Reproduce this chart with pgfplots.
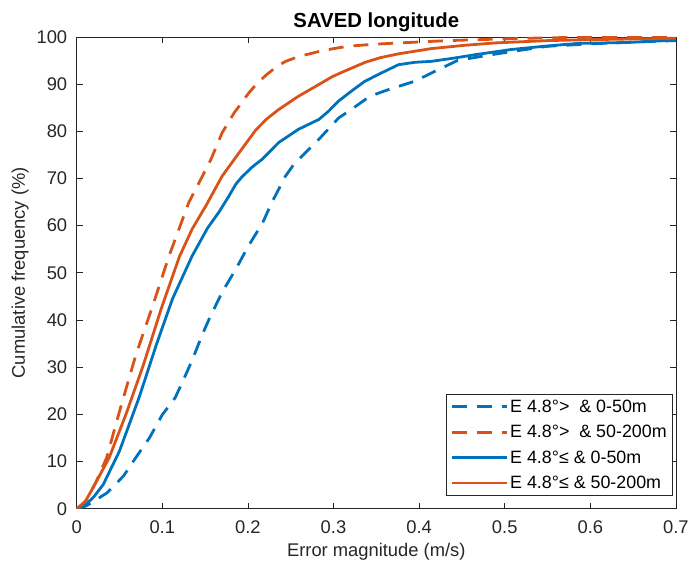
\documentclass[border=0pt]{standalone}
\usepackage{pgfplots}
\pgfplotsset{compat=1.18}
\usepackage{fontspec}
\setmainfont{Liberation Sans}
\definecolor{mblue}{rgb}{0,0.447,0.741}
\definecolor{morange}{rgb}{0.85,0.325,0.098}
\definecolor{axgray}{rgb}{0.15,0.15,0.15}
\begin{document}
\begin{tikzpicture}
\begin{axis}[
  scale only axis,
  width=602bp, height=474bp,
  xmin=0, xmax=0.7, ymin=0, ymax=100,
  xtick={0,0.1,...,0.7},
  ytick={0,10,...,100},
  xticklabels={0,0.1,0.2,0.3,0.4,0.5,0.6,0.7},
  tick align=inside,
  major tick length=6bp,
  axis line style={axgray, line width=0.6bp},
  every tick/.style={axgray, line width=0.6bp},
  tick label style={font=\fontsize{18.5}{20}\selectfont, text=axgray},
  xticklabel style={yshift=-9bp},
  yticklabel style={xshift=-6bp},
  /pgf/number format/assume math mode=true,
  xlabel={Error magnitude (m/s)},
  ylabel={Cumulative frequency (\%)},
  label style={font=\fontsize{18.5}{20}\selectfont, text=axgray},
  xlabel style={yshift=-2bp},
  ylabel style={yshift=1bp},
  title={SAVED longitude},
  title style={font=\bfseries\fontsize{20.5}{22}\selectfont, yshift=-4bp},
  legend style={at={(1,0)}, anchor=south east, xshift=-3bp, yshift=13bp,
    font=\fontsize{18}{20}\selectfont, draw=axgray, line width=0.6bp,
    inner xsep=4bp, inner ysep=3.5bp, row sep=7.5bp},
  legend cell align=left,
  legend image code/.code={\draw[#1] (0bp,0bp) -- (55bp,0bp);},
  every axis plot/.append style={line width=2.8bp, line join=round},
  clip=true,
]
% E 4.8 > & 0-50m
\addplot[mblue, dash pattern=on 15bp off 10bp] coordinates {
(0,0) (0.01,0.5) (0.02,1.5) (0.028,2.5) (0.035,3.3) (0.042,4.5) (0.055,7)
(0.069,10.8) (0.085,15) (0.100,19.9) (0.115,23.5) (0.124,27) (0.135,31.5)
(0.147,37) (0.155,40.3) (0.170,45.9) (0.186,50.8) (0.201,55.8) (0.217,60.5)
(0.228,64.9) (0.244,70.5) (0.253,72.8) (0.263,74.7) (0.283,78.3) (0.306,82.8) (0.320,84.5)
(0.337,86.7) (0.350,87.9) (0.364,88.8) (0.395,90.6) (0.422,93.0) (0.445,95.0) (0.484,96.2)
(0.52,97.2) (0.55,98.0) (0.60,98.5) (0.65,98.9) (0.70,99.2)
};
\addlegendentry{E 4.8°>\ \ \& 0-50m}
% E 4.8 > & 50-200m
\addplot[morange, dash pattern=on 15bp off 10bp] coordinates {
(0,0) (0.003,0.2) (0.012,2) (0.023,5.8) (0.035,10.8) (0.050,20.6) (0.069,32.5)
(0.089,43.1) (0.108,53.6) (0.120,59.5) (0.131,64.9) (0.143,69.1) (0.157,74.1)
(0.170,79.7) (0.184,83.9) (0.201,88.1) (0.211,90.2) (0.222,92.0) (0.233,93.6) (0.244,94.8) (0.259,95.8)
(0.283,96.9) (0.300,97.5) (0.317,98.0) (0.345,98.4) (0.376,98.7) (0.434,99.2) (0.488,99.5) (0.55,99.8)
(0.60,99.9) (0.70,100)
};
\addlegendentry{E 4.8°>\ \ \& 50-200m}
% E 4.8 <= & 0-50m
\addplot[mblue] coordinates {
(0,0) (0.011,0.9) (0.020,2.5) (0.031,5.1) (0.050,12.2) (0.073,23.6) (0.093,34.7)
(0.112,44.5) (0.135,53.6) (0.153,59.5) (0.166,62.8) (0.178,66.3) (0.186,68.8) (0.193,70.3)
(0.205,72.4) (0.217,74.1) (0.236,77.6) (0.259,80.4) (0.283,82.5) (0.294,84.2) (0.306,86.4)
(0.321,88.5) (0.336,90.5) (0.352,92.0) (0.376,94.1) (0.395,94.6) (0.414,94.8) (0.441,95.5) (0.465,96.2)
(0.492,96.9) (0.507,97.3) (0.546,98.0) (0.585,98.6) (0.643,98.8) (0.70,99.3)
};
\addlegendentry{E 4.8°≤ \& 0-50m}
% E 4.8 <= & 50-200m
\addplot[morange] coordinates {
(0,0) (0.010,1.5) (0.019,4.4) (0.038,10.8) (0.058,20.2) (0.078,30.5) (0.099,42.5)
(0.120,53.4) (0.135,59.3) (0.151,64.2) (0.170,70.5) (0.190,75.5) (0.209,80.2)
(0.222,82.6) (0.236,84.6) (0.259,87.4) (0.283,89.9) (0.298,91.5) (0.310,92.5) (0.337,94.6)
(0.355,95.6) (0.376,96.4) (0.414,97.5) (0.453,98.2) (0.488,98.7) (0.55,99.2) (0.60,99.4)
(0.70,99.7)
};
\addlegendentry{E 4.8°≤ \& 50-200m}
\end{axis}
\path (current axis.south west) ++(-77bp,-58bp);
\path (current axis.north east) ++(13bp,37bp);
\end{tikzpicture}
\end{document}
